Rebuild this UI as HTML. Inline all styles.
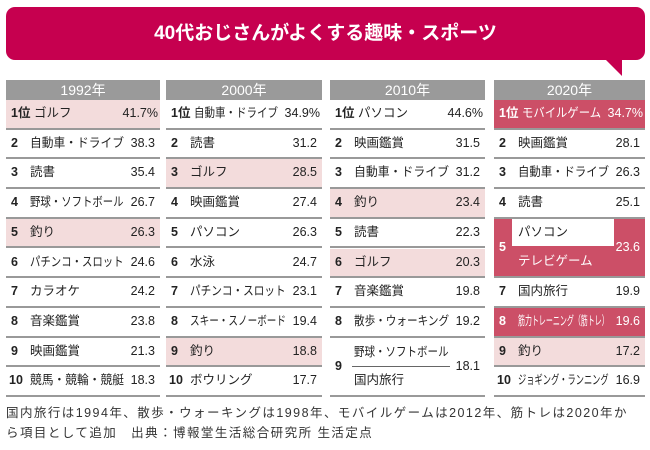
<!DOCTYPE html>
<html><head><meta charset="utf-8">
<style>
body{margin:0;width:650px;height:450px;background:#fff;position:relative;overflow:hidden;font-family:"Liberation Sans","Noto Sans CJK JP",sans-serif;color:#222}
.banner{position:absolute;left:6px;top:7px;width:639px;height:53px;background:#c6004f;border-radius:9px;color:#fff;font-weight:bold;font-size:19px;text-align:center;line-height:53px}
.tail{position:absolute;left:604px;top:58px;width:0;height:0;border-left:18px solid transparent;border-top:18px solid #c6004f}
.hdr{position:absolute;top:80px;height:20px;background:#9a9a9a;color:#fff;font-size:14px;text-align:center;line-height:20px}
.cell{position:absolute;font-size:12.5px;border-bottom:2px solid #999;box-sizing:border-box}
.rk{position:absolute;left:5px;font-weight:bold}
.nm{position:absolute;left:24px;white-space:nowrap;transform-origin:0 50%}
.vl{position:absolute;right:5px}
.foot{position:absolute;left:6px;top:403px;font-size:12.5px;line-height:20px;color:#333;width:660px;letter-spacing:1.45px;white-space:nowrap}
</style></head><body>
<div class="banner">40代おじさんがよくする趣味・スポーツ</div>
<div class="tail"></div>
<div id="tables"></div>
<div class="foot">国内旅行は1994年、散歩・ウォーキングは1998年、モバイルゲームは2012年、筋トレは2020年か<br>ら項目として追加　出典：博報堂生活総合研究所 生活定点</div>
<script>
const years=["1992年","2000年","2010年","2020年"];
const names1992=["ゴルフ","自動車・ドライブ","読書","野球・ソフトボール","釣り","パチンコ・スロット","カラオケ","音楽鑑賞","映画鑑賞","競馬・競輪・競艇"];
const vals1992=["41.7%","38.3","35.4","26.7","26.3","24.6","24.2","23.8","21.3","18.3"];
const names2000=["自動車・ドライブ","読書","ゴルフ","映画鑑賞","パソコン","水泳","パチンコ・スロット","スキー・スノーボード","釣り","ボウリング"];
const vals2000=["34.9%","31.2","28.5","27.4","26.3","24.7","23.1","19.4","18.8","17.7"];
const names2010=["パソコン","映画鑑賞","自動車・ドライブ","釣り","読書","ゴルフ","音楽鑑賞","散歩・ウォーキング","野球・ソフトボール|国内旅行"];
const vals2010=["44.6%","31.5","31.2","23.4","22.3","20.3","19.8","19.2","18.1"];
const ranks2010=[1,2,3,4,5,6,7,8,9];
const names2020=["モバイルゲーム","映画鑑賞","自動車・ドライブ","読書","パソコン|テレビゲーム","国内旅行","筋力トレーニング（筋トレ）","釣り","ジョギング・ランニング"];
const vals2020=["34.7%","28.1","26.3","25.1","23.6","19.9","19.6","17.2","16.9"];
const ranks2020=[1,2,3,4,5,7,8,9,10];
const cols=[[6,154],[166,156],[330,155],[494,151]];
const top0=100,rowH=29.7;
const P="#f3dcdc",D="#cc4f67";
const hi=[{0:P,4:P},{2:P,8:P},{3:P,5:P},{0:D,4:D,6:D,7:P}];
const data=[[names1992,vals1992,null],[names2000,vals2000,null],[names2010,vals2010,ranks2010],[names2020,vals2020,ranks2020]];
const T=document.getElementById('tables');
function fit(n,maxW){const sw=n.scrollWidth;if(sw>maxW)n.style.transform=`scaleX(${maxW/sw})`;}
data.forEach((d,c)=>{
  const [x,w]=cols[c];
  const h=document.createElement('div');h.className='hdr';
  
  
  h.style.left=x+'px';h.style.width=w+'px';h.textContent=years[c];T.appendChild(h);
  let slot=0;
  d[0].forEach((nm,i)=>{
    const rank=d[2]?d[2][i]:i+1;
    const dbl=nm.includes('|');const span=dbl?2:1;
    const el=document.createElement('div');el.className='cell';
    
    
    const y=top0+slot*rowH,hh=span*rowH;
    el.style.cssText+=`left:${x}px;width:${w}px;top:${y}px;height:${hh}px;`;
    const bg=hi[c][i];if(bg)el.style.background=bg;
    const dark=bg===D;if(dark)el.style.color='#fff';
    const lh=(hh-2)+'px';
    const r=document.createElement('span');r.className='rk';r.style.lineHeight=lh;r.textContent=rank===1?'1位':String(rank);
    if(rank===10)r.style.left='3px';
    el.appendChild(r);
    T.appendChild(el);
    const n=document.createElement('span');n.className='nm';
    let nl=24;
    if(rank===1){nl=28;n.style.left='28px';}
    const isPct=d[1][i].includes('%');
    const maxW=w-nl-(isPct?44:36);
    if(dbl){
      const [a,b]=nm.split('|');
      if(c===3){
        const box=document.createElement('div');box.style.cssText=`position:absolute;left:18px;top:0;width:102px;height:${rowH-2}px;background:#fff;color:#222;line-height:${rowH-2}px;padding-left:6px;box-sizing:border-box`;box.textContent=a;el.appendChild(box);
        const t=document.createElement('div');t.style.cssText=`position:absolute;left:24px;top:${rowH}px;line-height:${rowH-2}px`;t.textContent=b;el.appendChild(t);
      }else{
        const t1=document.createElement('div');t1.className='nm';t1.style.cssText+=`top:0;line-height:${rowH}px`;t1.textContent=a;el.appendChild(t1);fit(t1,maxW);
        const ln=document.createElement('div');ln.style.cssText=`position:absolute;left:22px;top:${rowH-1}px;width:98px;height:1px;background:#666`;el.appendChild(ln);
        const t2=document.createElement('div');t2.style.cssText=`position:absolute;left:24px;top:${rowH}px;line-height:${rowH-2}px`;t2.textContent=b;el.appendChild(t2);
      }
    }else{
      n.style.lineHeight=lh;n.textContent=nm;
      el.appendChild(n);
      fit(n,maxW);
    }
    const v=document.createElement('span');v.className='vl';v.style.lineHeight=lh;v.textContent=d[1][i];
    if(isPct)v.style.right='2px';
    el.appendChild(v);
    slot+=span;
  });
});
</script>
</body></html>
